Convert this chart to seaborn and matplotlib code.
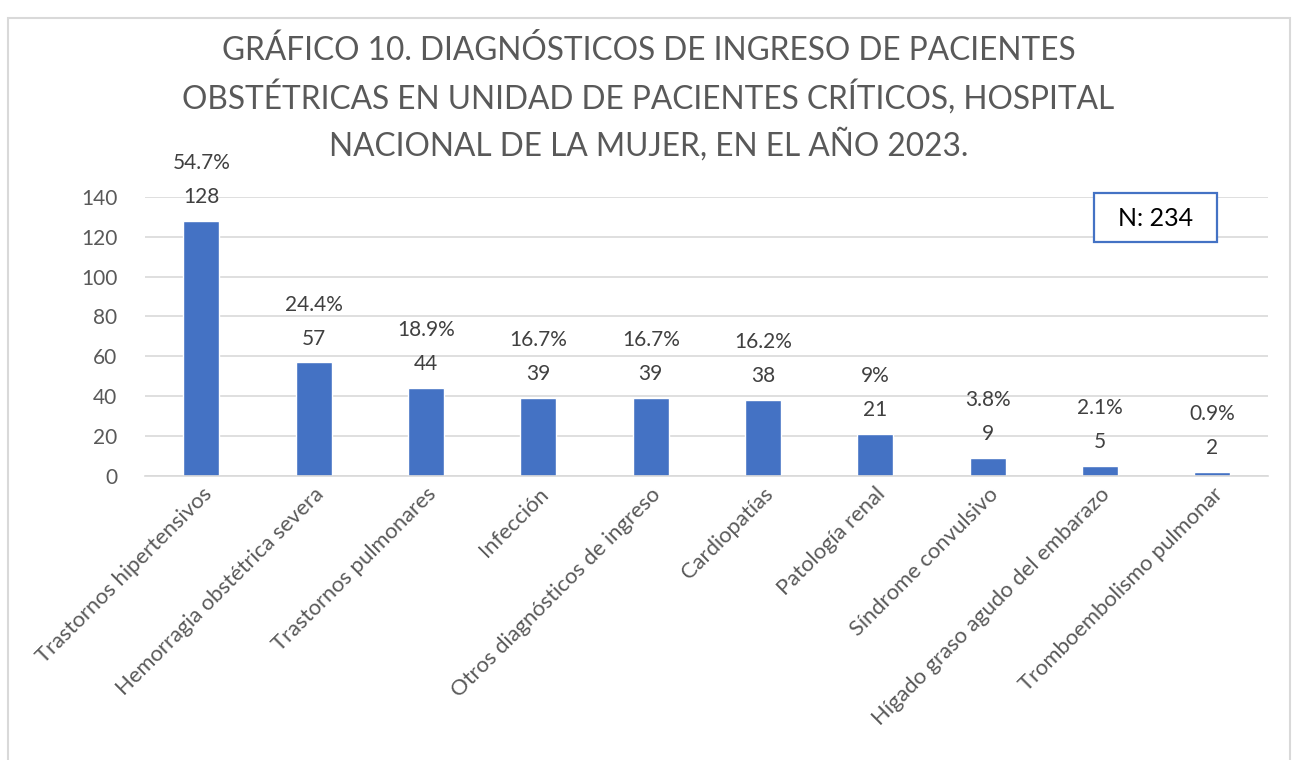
import matplotlib
matplotlib.use("Agg")
import matplotlib.pyplot as plt
import seaborn as sns
import pandas as pd
from matplotlib.patches import Rectangle

categories = ["Trastornos hipertensivos", "Hemorragia obstétrica severa", "Trastornos pulmonares",
              "Infección", "Otros diagnósticos de ingreso", "Cardiopatías", "Patología renal",
              "Síndrome convulsivo", "Hígado graso agudo del embarazo", "Tromboembolismo pulmonar"]
counts = [128, 57, 44, 39, 39, 38, 21, 9, 5, 2]
percents = ["54.7%", "24.4%", "18.9%", "16.7%", "16.7%", "16.2%", "9%", "3.8%", "2.1%", "0.9%"]
yticks = [0, 20, 40, 60, 80, 100, 120, 140]
title_lines = ["GRÁFICO 10. DIAGNÓSTICOS DE INGRESO DE PACIENTES",
               "OBSTÉTRICAS EN UNIDAD DE PACIENTES CRÍTICOS, HOSPITAL",
               "NACIONAL DE LA MUJER, EN EL AÑO 2023."]
n_text = "N: 234"

sns.set_theme(style="white")
plt.rcParams['font.family'] = ['Lato', 'DejaVu Sans']

df = pd.DataFrame({"cat": categories, "n": counts})

fig = plt.figure(figsize=(12.97, 7.6), dpi=100)
ax = fig.add_axes([0.112, 0.374, 0.866, 0.367])
sns.barplot(data=df, x="cat", y="n", color="#4472C4", width=0.32, saturation=1, ax=ax)

ax.set_ylim(0, 140)
ax.set_xlim(-0.5, len(categories) - 0.5)
ax.set_yticks(yticks)
ax.yaxis.grid(True, color="#D9D9D9", linewidth=1.2)
ax.set_axisbelow(True)
for s in ["top", "right", "left"]:
    ax.spines[s].set_visible(False)
ax.spines["bottom"].set_color("#D9D9D9")
ax.spines["bottom"].set_linewidth(1.2)
ax.set_xlabel("")
ax.set_ylabel("")
ax.tick_params(axis="y", labelsize=15, colors="#595959", length=0, pad=20)
ax.tick_params(axis="x", labelsize=15.8, colors="#595959", length=0, pad=6)
ax.set_xticks(range(len(categories)))
ax.set_xticklabels(categories, rotation=45, ha="right", rotation_mode="anchor")

for i, (c, p) in enumerate(zip(counts, percents)):
    ax.annotate(str(c), (i, c), xytext=(0, 17), textcoords="offset points",
                ha="center", va="center", fontsize=15, color="#404040")
    ax.annotate(p, (i, c), xytext=(0, 41.5), textcoords="offset points",
                ha="center", va="center", fontsize=15, color="#404040", annotation_clip=False)

for line, ypx in zip(title_lines, [50, 97, 145]):
    fig.text(0.5, 1 - ypx / 760, line, ha="center", va="center", fontsize=22.8, color="#595959")

# N box
fig.patches.append(Rectangle((1094 / 1297, 1 - 242 / 760), 123 / 1297, 49 / 760,
                             transform=fig.transFigure, fc="white", ec="#4472C4", lw=1.6, zorder=5))
fig.text(1155.5 / 1297, 1 - 218 / 760, n_text, ha="center", va="center", fontsize=18, color="black",
         zorder=6)

# outer chart border
fig.patches.append(Rectangle((8 / 1297, -0.01), 1282 / 1297, 1 - 18 / 760 + 0.01,
                             transform=fig.transFigure, fill=False, ec="#D9D9D9", lw=1.5))

fig.savefig("out.png", dpi=100)
